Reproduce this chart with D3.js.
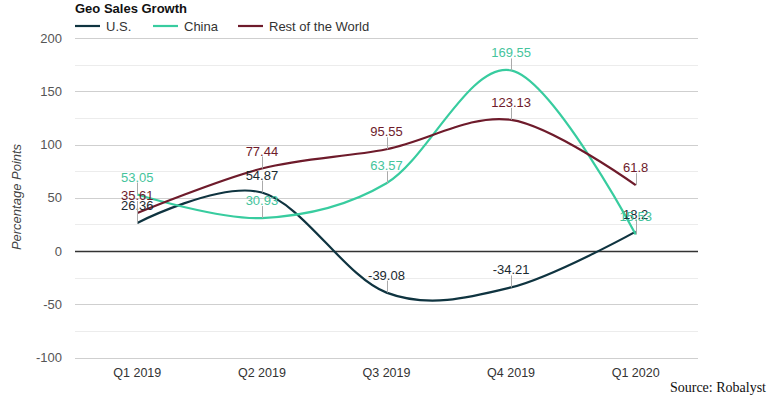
<!DOCTYPE html>
<html>
<head>
<meta charset="utf-8">
<script src="https://cdn.jsdelivr.net/npm/d3@7"></script>
<style>
  body { margin: 0; background: #fff; }
  svg { display: block; font-family: Arial, "Liberation Sans", sans-serif; }
</style>
</head>
<body>
<svg id="chart" width="772" height="396"></svg>
<script>
// data
const quarters = ['Q1 2019', 'Q2 2019', 'Q3 2019', 'Q4 2019', 'Q1 2020'];
const usValues = [26.36, 54.87, -39.08, -34.21, 18.2];
const chinaValues = [53.05, 30.93, 63.57, 169.55, 15.53];
const rowValues = [35.61, 77.44, 95.55, 123.13, 61.8];
const majorTicks = [-100, -50, 0, 50, 100, 150, 200];
const minorTicks = [-75, -25, 25, 75, 125, 175];

const series = [
    { name: 'U.S.', values: usValues, color: '#0f3440', labelColor: '#1b2a30' },
    { name: 'China', values: chinaValues, color: '#38cc9f', labelColor: '#45c49c' },
    { name: 'Rest of the World', values: rowValues, color: '#6e1b2b', labelColor: '#6e1b2b' }
];

const svg = d3.select('#chart');

const x = d3.scaleBand()
    .domain(quarters)
    .range([75, 698]);

const y = d3.scaleLinear()
    .domain([-100, 200])
    .range([357.5, 38]);

const cx = q => x(q) + x.bandwidth() / 2;

// grid
svg.append('g')
    .selectAll('line')
    .data(minorTicks)
    .enter()
    .append('line')
    .attr('x1', 75).attr('x2', 698)
    .attr('y1', d => Math.round(y(d)) + 0.5)
    .attr('y2', d => Math.round(y(d)) + 0.5)
    .attr('stroke', '#ececec');

svg.append('g')
    .selectAll('line')
    .data(majorTicks)
    .enter()
    .append('line')
    .attr('x1', 75).attr('x2', 698)
    .attr('y1', d => Math.round(y(d)) + 0.5)
    .attr('y2', d => Math.round(y(d)) + 0.5)
    .attr('stroke', d => d === 0 ? '#333' : '#cfcfcf')
    .attr('stroke-width', d => d === 0 ? 1.5 : 1);

// y axis labels
svg.append('g')
    .selectAll('text')
    .data(majorTicks)
    .enter()
    .append('text')
    .attr('x', 62)
    .attr('y', d => y(d) + 4.5)
    .attr('text-anchor', 'end')
    .attr('font-size', 13)
    .attr('fill', '#555')
    .text(d => d);

svg.append('text')
    .attr('transform', 'translate(21,197) rotate(-90)')
    .attr('text-anchor', 'middle')
    .attr('font-size', 13)
    .attr('font-style', 'italic')
    .attr('fill', '#444')
    .text('Percentage Points');

// x axis labels
svg.append('g')
    .selectAll('text')
    .data(quarters)
    .enter()
    .append('text')
    .attr('x', d => cx(d))
    .attr('y', 377)
    .attr('text-anchor', 'middle')
    .attr('font-size', 12.5)
    .attr('fill', '#333')
    .text(d => d);

// lines
const line = d3.line()
    .x((d, i) => cx(quarters[i]))
    .y(d => y(d))
    .curve(d3.curveCardinal.tension(0));

svg.append('g')
    .selectAll('path')
    .data(series)
    .enter()
    .append('path')
    .attr('d', s => line(s.values))
    .attr('fill', 'none')
    .attr('stroke', s => s.color)
    .attr('stroke-width', 2.2);

// data labels with leader ticks
series.forEach(s => {
    const g = svg.append('g');
    g.selectAll('line')
        .data(s.values)
        .enter()
        .append('line')
        .attr('x1', (d, i) => Math.round(cx(quarters[i])) + 0.5)
        .attr('x2', (d, i) => Math.round(cx(quarters[i])) + 0.5)
        .attr('y1', d => y(d))
        .attr('y2', d => y(d) - 12)
        .attr('stroke', '#aaa');
    g.selectAll('text')
        .data(s.values)
        .enter()
        .append('text')
        .attr('x', (d, i) => cx(quarters[i]))
        .attr('y', d => y(d) - 13)
        .attr('text-anchor', 'middle')
        .attr('font-size', 13)
        .attr('fill', s.labelColor)
        .text(d => d);
});

// title and legend
svg.append('text')
    .attr('x', 75)
    .attr('y', 13)
    .attr('font-size', 13)
    .attr('font-weight', 'bold')
    .attr('fill', '#111')
    .text('Geo Sales Growth');

const legendX = [75, 153, 238];
const legend = svg.append('g')
    .selectAll('g')
    .data(series)
    .enter()
    .append('g')
    .attr('transform', (d, i) => `translate(${legendX[i]},26)`);

legend.append('line')
    .attr('x1', 0).attr('x2', 25)
    .attr('stroke', d => d.color)
    .attr('stroke-width', 2.2);

legend.append('text')
    .attr('x', 31)
    .attr('y', 4.5)
    .attr('font-size', 13)
    .attr('fill', '#333')
    .text(d => d.name);

// source
svg.append('text')
    .attr('x', 766)
    .attr('y', 392)
    .attr('text-anchor', 'end')
    .attr('font-family', '"Liberation Serif", "DejaVu Serif", serif')
    .attr('font-size', 14)
    .attr('fill', '#111')
    .text('Source: Robalyst');
</script>
</body>
</html>
